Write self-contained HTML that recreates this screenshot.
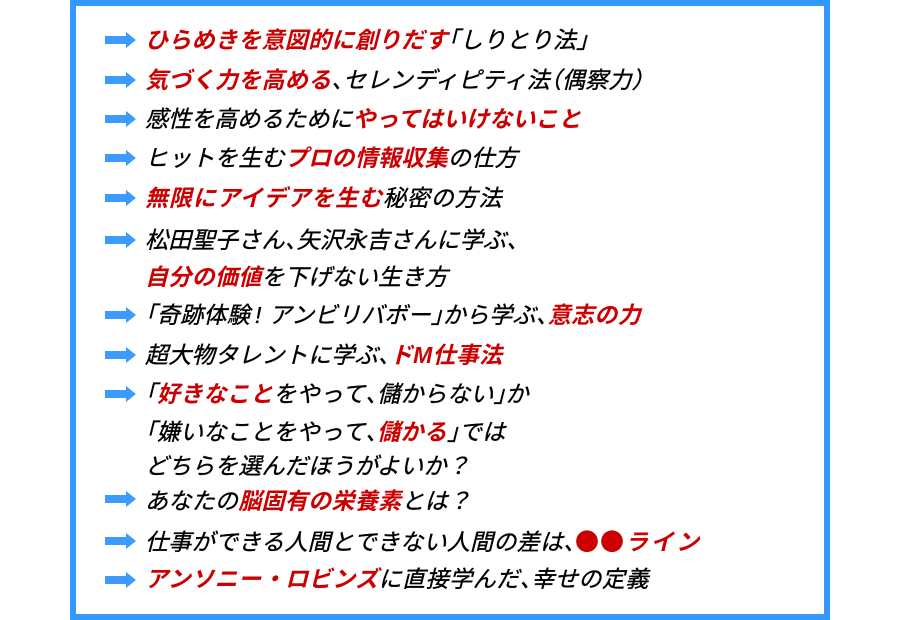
<!DOCTYPE html>
<html><head><meta charset="utf-8">
<style>
html,body{margin:0;padding:0;background:#fff;}
body{width:900px;height:620px;position:relative;overflow:hidden;}
.box{position:absolute;left:70px;top:0;width:748px;height:608px;border:6px solid #3399ff;background:#fff;}
.l{position:absolute;left:145px;height:30px;line-height:30px;font-size:23px;letter-spacing:0.3px;white-space:nowrap;
font-family:"Liberation Sans","Noto Sans CJK JP",sans-serif;font-style:italic;color:#000;-webkit-text-stroke:0.35px #000;}
.r{color:#cc0000;font-weight:bold;-webkit-text-stroke:0;}
.ob{margin-left:-0.5em;}
.cb{letter-spacing:-0.5em;margin-right:0.3px;}
.dot{font-family:"Noto Sans CJK JP",sans-serif;font-style:normal;color:#cc0000;-webkit-text-stroke:0;letter-spacing:0;}
svg.a{position:absolute;left:105px;width:32px;height:18px;}
</style></head><body>
<div class="box"></div>

<svg class="a" style="top:31px" viewBox="0 0 32 18"><polygon points="0,5 21,5 21,1 31,9 21,17 21,13 0,13" fill="#3d9bff"/></svg>
<svg class="a" style="top:71px" viewBox="0 0 32 18"><polygon points="0,5 21,5 21,1 31,9 21,17 21,13 0,13" fill="#3d9bff"/></svg>
<svg class="a" style="top:110px" viewBox="0 0 32 18"><polygon points="0,5 21,5 21,1 31,9 21,17 21,13 0,13" fill="#3d9bff"/></svg>
<svg class="a" style="top:149px" viewBox="0 0 32 18"><polygon points="0,5 21,5 21,1 31,9 21,17 21,13 0,13" fill="#3d9bff"/></svg>
<svg class="a" style="top:189px" viewBox="0 0 32 18"><polygon points="0,5 21,5 21,1 31,9 21,17 21,13 0,13" fill="#3d9bff"/></svg>
<svg class="a" style="top:231px" viewBox="0 0 32 18"><polygon points="0,5 21,5 21,1 31,9 21,17 21,13 0,13" fill="#3d9bff"/></svg>
<svg class="a" style="top:306px" viewBox="0 0 32 18"><polygon points="0,5 21,5 21,1 31,9 21,17 21,13 0,13" fill="#3d9bff"/></svg>
<svg class="a" style="top:346px" viewBox="0 0 32 18"><polygon points="0,5 21,5 21,1 31,9 21,17 21,13 0,13" fill="#3d9bff"/></svg>
<svg class="a" style="top:385px" viewBox="0 0 32 18"><polygon points="0,5 21,5 21,1 31,9 21,17 21,13 0,13" fill="#3d9bff"/></svg>
<svg class="a" style="top:490px" viewBox="0 0 32 18"><polygon points="0,5 21,5 21,1 31,9 21,17 21,13 0,13" fill="#3d9bff"/></svg>
<svg class="a" style="top:532px" viewBox="0 0 32 18"><polygon points="0,5 21,5 21,1 31,9 21,17 21,13 0,13" fill="#3d9bff"/></svg>
<svg class="a" style="top:571px" viewBox="0 0 32 18"><polygon points="0,5 21,5 21,1 31,9 21,17 21,13 0,13" fill="#3d9bff"/></svg>

<div class="l" style="top:25px"><span class="r">ひらめきを意図的に創りだす</span><span class="ob">「</span>しりとり法<span class="cb">」</span></div>
<div class="l" style="top:65px"><span class="r">気づく力を高める</span><span class="cb">、</span>セレンディピティ法<span class="ob">（</span>偶察力<span class="cb">）</span></div>
<div class="l" style="top:104px;letter-spacing:0.05px">感性を高めるために<span class="r">やってはいけないこと</span></div>
<div class="l" style="top:143px">ヒットを生む<span class="r">プロの情報収集</span>の仕方</div>
<div class="l" style="top:183px;letter-spacing:0.9px">
<span class="r">無限にアイデアを生む</span>秘密の方法</div>
<div class="l" style="top:225px">松田聖子さん<span class="cb">、</span>矢沢永吉さんに学ぶ<span class="cb">、</span></div>
<div class="l" style="top:262px"><span class="r">自分の価値</span>を下げない生き方</div>
<div class="l" style="top:300px"><span class="ob">「</span>奇跡体験<span style="margin:0 7px 0 5px">!</span>アンビリバボー<span class="cb">」</span>から学ぶ<span class="cb">、</span><span class="r">意志の力</span></div>
<div class="l" style="top:340px">超大物タレントに学ぶ<span class="cb">、</span><span class="r">ドM仕事法</span></div>
<div class="l" style="top:379px"><span class="ob">「</span><span class="r">好きなこと</span>をやって<span class="cb">、</span>儲からない<span class="cb">」</span>か</div>
<div class="l" style="top:417px"><span class="ob">「</span>嫌いなことをやって<span class="cb">、</span><span class="r">儲かる</span><span class="cb">」</span>では</div>
<div class="l" style="top:451px">どちらを選んだほうがよいか？</div>
<div class="l" style="top:486px">あなたの<span class="r">脳固有の栄養素</span>とは？</div>
<div class="l" style="top:525px">仕事ができる人間とできない人間の差は<span class="cb">、</span><span class="dot" style="font-size:24px;letter-spacing:1px">●●</span><span class="r" style="letter-spacing:2.5px">ライン</span></div>
<div class="l" style="top:564px;letter-spacing:0.5px"><span class="r">アンソニー・ロビンズ</span>に直接学んだ<span class="cb">、</span>幸せの定義</div>
</body></html>
